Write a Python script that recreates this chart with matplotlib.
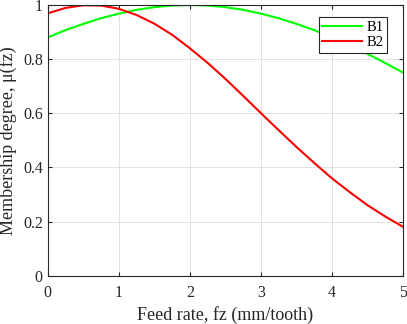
import matplotlib
matplotlib.use('Agg')
import matplotlib.pyplot as plt

plt.rcParams['font.family'] = ['Liberation Serif', 'DejaVu Serif']

# values, step 0.25
fz = [0, 0.25, 0.5, 0.75, 1, 1.25, 1.5, 1.75, 2, 2.25, 2.5,
      2.75, 3, 3.25, 3.5, 3.75, 4, 4.25, 4.5, 4.75, 5]
b1 = [0.880, 0.907, 0.930, 0.951, 0.968, 0.982, 0.992, 0.998, 1.000, 0.998, 0.992,
      0.982, 0.968, 0.951, 0.930, 0.907, 0.880, 0.850, 0.819, 0.785, 0.750]
b2 = [0.969, 0.989, 0.999, 0.998, 0.986, 0.963, 0.931, 0.890, 0.840, 0.786, 0.727,
      0.664, 0.600, 0.537, 0.475, 0.416, 0.359, 0.308, 0.260, 0.218, 0.180]

fig = plt.figure(figsize=(4.07, 3.24), dpi=100)
ax = fig.add_axes([0.117, 0.149, 0.874, 0.8356])

ax.plot(fz, b1, color=(0, 1, 0), lw=1.5, label='B1')
ax.plot(fz, b2, color=(1, 0, 0), lw=1.5, label='B2')

ax.set_xlim(0, 5)
ax.set_ylim(0, 1)
ax.set_xticks([0, 1, 2, 3, 4, 5])
ax.set_yticks([0, 0.2, 0.4, 0.6, 0.8, 1])
ax.set_yticklabels(['0', '0.2', '0.4', '0.6', '0.8', '1'])
ax.grid(True, color='#dcdcdc', lw=0.6)
ax.tick_params(direction='in', top=True, right=True, length=3, labelsize=11.5, colors='#262626')
ax.tick_params(axis='x', pad=7)
for s in ax.spines.values():
    s.set_color('#262626')
    s.set_linewidth(0.8)

ax.set_xlabel('Feed rate, fz (mm/tooth)', fontsize=13, color='#262626', labelpad=3)
ax.set_ylabel('Membership degree, μ(fz)', fontsize=13, color='#262626', labelpad=4)

leg = ax.legend(loc='upper right', bbox_to_anchor=(0.954, 0.955), fontsize=10.5,
                fancybox=False, framealpha=1, edgecolor='#262626',
                handlelength=2.7, borderpad=0.25, labelspacing=0.15, handletextpad=0.3,
                borderaxespad=0)
leg.get_frame().set_linewidth(0.8)

fig.savefig('out.png', dpi=100)
